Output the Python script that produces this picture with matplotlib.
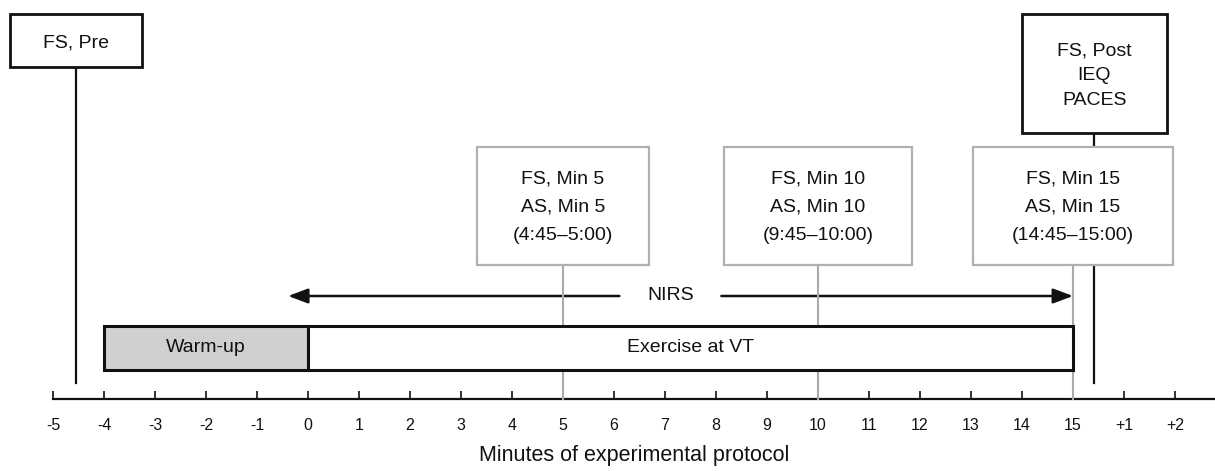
import matplotlib.pyplot as plt
from matplotlib.patches import Rectangle

plt.rcParams['font.family'] = ['Liberation Sans', 'DejaVu Sans']

# Eje de tiempo (minutos)
tick_pos = list(range(-5, 18))
tick_labels = [str(t) for t in range(-5, 16)] + ['+1', '+2']

# Cajas grises (mediciones durante el ejercicio)
gray_centers = [5, 10, 15]
gray_halfw = [1.69, 1.84, 1.97]
gray_texts = ['FS, Min 5\nAS, Min 5\n(4:45–5:00)',
              'FS, Min 10\nAS, Min 10\n(9:45–10:00)',
              'FS, Min 15\nAS, Min 15\n(14:45–15:00)']

# Cajas negras (pre / post)
black_centers = [-4.55, 15.42]
black_halfw = [1.29, 1.42]
black_texts = ['FS, Pre', 'FS, Post\nIEQ\nPACES']
black_bottoms = [67, 133]

# Barras de fases
phase_start = [-4, 0]
phase_end = [0, 15]
phase_names = ['Warm-up', 'Exercise at VT']
phase_colors = ['#d0d0d0', 'white']

nirs_start = -0.39
nirs_end = 15

fig = plt.figure(figsize=(12.15, 4.71), dpi=100)
ax = fig.add_axes([0, 0, 1, 1])
ax.set_xlim(-5 - 53 / 51, -5 + (1215 - 53) / 51)
ax.set_ylim(471, 0)

# eje inferior
for s in ['top', 'left', 'right']:
    ax.spines[s].set_visible(False)
ax.spines['bottom'].set_position(('data', 399))
ax.spines['bottom'].set_bounds(-5, ax.get_xlim()[1])
ax.spines['bottom'].set_linewidth(1.6)
ax.spines['bottom'].set_color('#111111')
ax.set_yticks([])
ax.set_xticks(tick_pos, tick_labels)
ax.tick_params(axis='x', direction='in', length=6, width=1.2, pad=13.5,
               labelsize=11.5, color='#111111', labelcolor='#111111')
ax.text(6.4, 455, 'Minutes of experimental protocol', ha='center', va='center',
        fontsize=15.5, color='#111111')

# barras de fases
for x0, x1, name, col in zip(phase_start, phase_end, phase_names, phase_colors):
    ax.add_patch(Rectangle((x0, 326), x1 - x0, 44, facecolor=col,
                           edgecolor='#111111', lw=2.2, zorder=4))
    ax.text((x0 + x1) / 2, 348, name, ha='center', va='center', fontsize=14,
            color='#111111', zorder=5)

# lineas grises y cajas grises
for c, hw, txt in zip(gray_centers, gray_halfw, gray_texts):
    ax.plot([c, c], [265, 399], color='#aaaaaa', lw=1.5, zorder=3)
    ax.add_patch(Rectangle((c - hw, 147), 2 * hw, 118, facecolor='white',
                           edgecolor='#b0b0b0', lw=1.6, zorder=6))
    ax.text(c, 207, txt, ha='center', va='center', fontsize=14,
            linespacing=1.85, color='#111111', zorder=7)

# cajas negras con su linea
for c, hw, txt, b in zip(black_centers, black_halfw, black_texts, black_bottoms):
    ax.plot([c, c], [b, 383], color='#111111', lw=1.6, zorder=2)
    ax.add_patch(Rectangle((c - hw, 14), 2 * hw, b - 14, facecolor='white',
                           edgecolor='#111111', lw=2.0, zorder=6))
    ax.text(c, (14 + b) / 2 + 2.5, txt, ha='center', va='center', fontsize=14,
            linespacing=1.6, color='#111111', zorder=7)

# flecha NIRS
mid = (nirs_start + nirs_end) / 2 - 0.2
gap = 1.0
arrow = dict(arrowstyle='-|>,head_length=1.2,head_width=0.45', color='#111111',
             lw=1.8, shrinkA=0, shrinkB=0)
ax.annotate('', xy=(nirs_start, 296), xytext=(mid - gap, 296), arrowprops=arrow,
            zorder=2)
ax.annotate('', xy=(nirs_end, 296), xytext=(mid + gap, 296), arrowprops=arrow,
            zorder=2)
ax.text(mid, 296, 'NIRS', ha='center', va='center', fontsize=14,
        color='#111111')

fig.savefig('out.png', dpi=100, facecolor='white')
